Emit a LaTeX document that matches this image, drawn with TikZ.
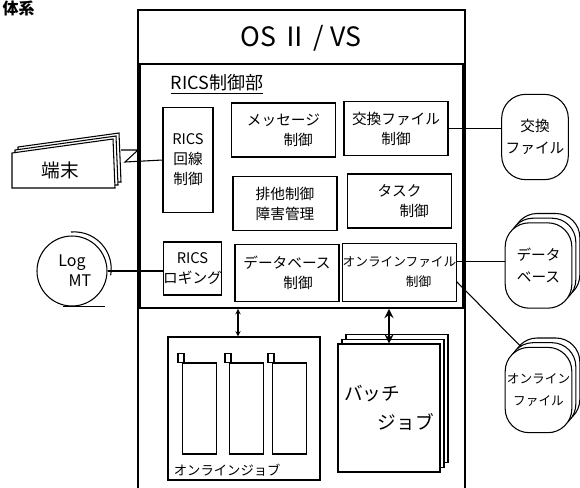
\documentclass[tikz,border=0pt]{standalone}
\usepackage{fontspec}
\setmainfont{Noto Sans CJK JP}
\usetikzlibrary{shadows}

\begin{document}
\begin{tikzpicture}[>=stealth, thick, x=0.75pt, y=-0.75pt,
  box/.style={draw, rectangle, inner sep=0pt, align=center, font=\fontsize{11}{15}\selectfont},
  wbox/.style={box, minimum width=78pt, minimum height=40.5pt},
  drum/.style={draw, rectangle, rounded corners=18pt, fill=white, inner sep=0pt, align=center,
    minimum width=50pt, minimum height=64pt, font=\fontsize{11}{17}\selectfont},
  stack/.style={double copy shadow={shadow xshift=3pt, shadow yshift=3.5pt}}]
\useasboundingbox (0,0) rectangle (580,487);
\node[anchor=north west, inner sep=0pt, font=\fontsize{12}{12}\selectfont\bfseries](H) at (2,0){体系};
% OS
\node[draw, rectangle, minimum width=245.25pt, minimum height=367.5pt](OS) at (301.5,255){};
\node[font=\fontsize{20}{20}\selectfont](T) at (301,38){OS\,Ⅱ / VS};
\node[draw, rectangle, line width=1.4pt, minimum width=242.25pt, minimum height=183pt](R) at (301.5,186){};
\node[font=\fontsize{13.5}{14}\selectfont](RL) at (217,84){\underline{RICS制御部}};
% RICS
\node[box, minimum width=37.5pt, minimum height=78.75pt](B1) at (188,160){RICS\\回線\\制御};
\node[wbox](B2) at (283.5,130){メッセージ\\\hspace{2em}制御};
\node[wbox](B3) at (396,128.5){交換ファイル\\制御};
\node[wbox](B4) at (285,203.5){排他制御\\障害管理};
\node[wbox](B5) at (399.5,201){タスク\\\hspace{2em}制御};
\node[box, minimum width=38.25pt, minimum height=39.75pt](B6) at (192.5,268.5){RICS\\ロギング};
\node[wbox, minimum height=43pt](B7) at (287,273){データベース\\\hspace{1.5em}制御};
\node[wbox, minimum height=43pt, font=\fontsize{9.5}{15}\selectfont](B8) at (399.5,272.5){オンラインファイル\\\hspace{3em}制御};
% terminal
\foreach \s in {6,3,0}
  \draw[fill=white] (12+\s,153-\s) -- (113+\s,139-\s) -- (115+\s,188-\s) -- (12+\s,188-\s) -- cycle;
\node[font=\fontsize{14}{14}\selectfont](E) at (60,170){端末};
\coordinate (Er) at (121,150);
\draw (B1.west) -- (125,162) -- (138,150) -- (Er);
% Log MT
\node[draw, circle, minimum size=52.5pt, inner sep=0pt, align=center, font=\fontsize{12}{15}\selectfont](L) at (72,271){Log\\\hspace{1em}MT};
\draw (71,232) arc[start angle=-95, end angle=10, radius=37];
\draw ([xshift=-7pt]L.south) -- ([xshift=25pt]L.south);
\draw (L.east) -- (L.east -| B6.west);
% files
\node[drum](D1) at (535,137){交換\\ファイル};
\node[drum, stack](D2) at (538.5,265.5){データ\\ベース};
\node[drum, stack, font=\fontsize{9.5}{17}\selectfont](D3) at (538.5,390){オンライン\\ファイル};
\draw (B3.east) -- (B3.east -| D1.west);
\draw ([yshift=8.5pt]B8.east) coordinate (b8) -- (b8 -| D2.west);
\draw ([yshift=-7pt]B8.east) -- (D3.112);
% jobs
\node[draw, rectangle, minimum width=114pt, minimum height=107.25pt](J1) at (244,408.5){};
\node[anchor=south west, inner sep=1pt, font=\fontsize{10}{10}\selectfont](J1L) at (172,478){オンラインジョブ};
\node[draw, rectangle, minimum width=25.5pt, minimum height=68.25pt](P1) at (199.5,408.5){};
\node[draw, rectangle, minimum width=25.5pt, minimum height=68.25pt](P2) at (246.5,408.5){};
\node[draw, rectangle, minimum width=25.5pt, minimum height=68.25pt](P3) at (289.5,408.5){};
\foreach \p in {P1,P2,P3}
  \draw (\p.north west) ++(-3pt,0) rectangle ++(4.5pt,6.5pt);
\node[draw, rectangle, stack, fill=white, minimum width=76.5pt, minimum height=96pt, align=left,
  font=\fontsize{14}{22}\selectfont](J2) at (389,408){バッチ\\\hspace{1.8em}ジョブ};
\draw[<->] ([xshift=-4.5pt]J1.north) -- ([xshift=-4.5pt]J1.north |- R.south);
\draw[<->, line width=2pt] (J2.north) -- (J2.north |- R.south);
\end{tikzpicture}
\end{document}
